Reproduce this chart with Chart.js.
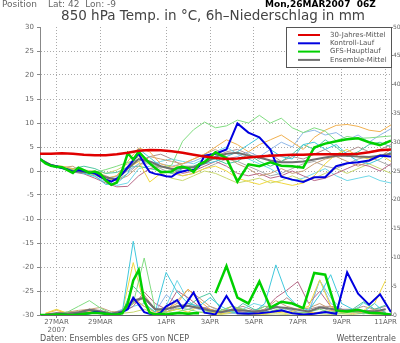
<!DOCTYPE html>
<html>
<head>
<meta charset="utf-8">
<script src="https://cdn.jsdelivr.net/npm/chart.js@4.4.1/dist/chart.umd.min.js"></script>
<style>
body { margin: 0; background: #fff; }
#box { position: relative; width: 400px; height: 343px; }
</style>
</head>
<body>
<div id="box"><canvas id="chart"></canvas></div>
<script>
// hours since 26MAR2007 06Z
var hours12 = [0,12,24,36,48,60,72,84,96,108,120,132,144,156,168,180,192,204,216,228,240,252,264,276,288,300,312,324,336,348,360,372,384];
var hoursHi = [0,6,12,18,24,30,36,42,48,54,60,66,72,78,84,90,96,102,108,114,120,126,132,138,144,150,156,162,168,174,180,
               192,204,216,228,240,252,264,276,288,300,312,324,336,348,360,372,384];
var hoursP = [6,18,30,42,54,66,78,90,102,114,126,138,150,162,174,186,198,210,222,234,246,258,270,282,294,306,318,330,342,354,366,378];

var tickHours = [18, 66, 138, 186, 234, 282, 330, 378];
var tickLabels = [['27MAR', '2007'], '29MAR', '1APR', '3APR', '5APR', '7APR', '9APR', '11APR'];

// 850 hPa temperature (deg C)
var climTemp = [3.6,3.6,3.7,3.6,3.4,3.3,3.3,3.5,3.8,4.2,4.4,4.3,4.1,3.8,3.4,3.0,2.7,2.5,2.6,2.8,3.0,3.2,3.3,3.4,3.4,3.5,3.5,3.5,3.5,3.6,3.9,4.3,4.5];
var meanTemp = [2.5,1.2,0.7,0.0,-0.2,-0.4,-1.3,-1.8,0.5,2.5,2.0,1.0,0.4,0.6,0.8,1.6,3.0,3.6,3.8,3.2,2.8,2.2,1.8,1.8,2.0,2.4,2.8,3.2,3.2,3.0,2.9,3.2,3.6];
var gfsTemp = [2.5,1.6,1.1,0.9,0.8,0.2,-0.4,0.7,0.2,-0.4,-0.1,-0.6,-2.0,-2.9,-2.4,0.2,3.7,2.4,4.0,2.8,1.6,0.6,-0.2,-0.2,-0.1,0.7,0.9,0.6,-0.2,1.4,1.9,
               3.9,2.7,-2.2,1.4,1.0,1.8,1.1,1.0,0.7,4.9,5.7,6.2,6.6,6.8,6.0,5.4,6.3];
var ctrlTemp = [2.5,1.7,1.2,1.0,0.6,0.3,-0.2,0.2,0.0,-0.3,-0.5,-1.2,-1.8,-2.2,-1.6,-0.6,0.8,2.2,3.6,1.5,-0.2,-0.6,-0.8,-1.1,-1.2,-0.4,-0.1,0.2,0.2,1.0,3.2,
                3.6,4.5,9.9,8.0,7.0,4.5,-1.2,-1.8,-2.3,-1.3,-1.3,1.0,1.6,1.8,2.2,3.2,3.0];

var memTemp = [
  [2.5,1.3,0.9,0.2,0.0,-0.3,0.3,1.0,1.8,2.4,1.6,0.8,1.2,6.2,8.6,10.2,9.0,9.4,10.6,10.0,11.6,10.0,11.0,9.0,8.0,9.0,8.3,6.3,7.2,6.8,6.9,7.1,7.3],
  [2.5,1.0,0.6,0.0,-0.5,-1.0,-2.8,-2.6,-0.5,4.6,2.8,1.0,0.5,0.0,0.4,1.5,2.0,3.0,4.0,5.5,7.0,4.5,3.0,2.5,5.5,6.0,4.5,5.5,3.5,2.0,1.5,2.5,4.0],
  [2.5,1.4,0.8,0.3,-0.3,-0.8,-2.0,-1.5,0.5,2.0,-2.3,-0.5,0.0,-1.0,-0.5,0.5,1.0,0.0,-1.5,-2.2,-2.8,-2.0,-2.5,-3.0,-2.5,-1.0,1.5,3.5,4.5,3.0,2.5,3.5,2.0],
  [2.5,1.2,1.0,0.5,0.0,-0.5,-1.5,-1.0,2.0,4.8,4.0,1.5,0.8,1.5,2.5,3.5,5.0,6.5,5.5,4.0,5.5,6.5,7.5,6.0,4.5,7.0,8.5,9.5,9.7,9.3,8.5,8.2,9.6],
  [2.5,1.1,0.7,1.0,-0.5,-0.2,-1.0,-2.0,-1.0,1.0,3.0,2.5,2.0,1.5,2.5,3.5,4.5,3.0,1.5,0.5,-1.0,-0.5,0.5,-0.5,0.0,1.5,2.5,3.0,2.0,1.0,2.0,3.0,4.5],
  [2.5,1.3,0.6,-0.2,-0.6,-1.5,-2.5,-3.3,-3.2,-1.0,0.5,1.0,0.5,-0.5,0.0,1.0,2.0,1.0,-0.5,-1.0,-0.5,-1.5,-1.0,0.0,-1.0,-2.0,-1.5,-0.5,0.5,1.5,1.0,0.0,1.5],
  [2.5,1.2,0.8,0.3,0.0,-0.6,-1.5,-1.2,0.0,1.5,2.0,1.5,1.0,1.5,2.0,3.0,3.5,2.5,3.0,4.0,3.0,4.5,6.0,5.0,8.0,8.5,7.5,8.0,6.5,7.5,6.0,7.5,8.8],
  [2.5,1.0,0.5,0.5,1.0,0.5,-0.5,-0.3,0.8,1.0,0.5,0.0,-0.5,0.5,1.0,2.0,2.5,1.5,2.0,3.5,2.0,1.0,2.0,3.5,5.5,4.5,6.5,5.0,3.0,4.0,5.5,6.0,5.0],
  [2.5,1.2,0.8,0.0,-0.3,-0.5,-1.2,-2.0,-0.5,1.5,1.5,0.5,-0.5,-1.0,-0.5,0.5,1.5,2.5,2.0,1.0,0.0,-1.0,-0.5,0.5,1.5,2.0,1.0,0.5,1.5,2.5,3.0,2.0,1.0],
  [2.5,1.3,0.9,0.4,0.2,0.0,-0.5,0.2,1.5,3.0,2.0,-0.5,-1.5,-2.0,-1.0,0.0,-0.5,-1.5,-2.5,-2.0,-1.5,-2.5,-2.0,-1.0,-2.0,-1.5,-0.5,0.5,-0.5,0.5,1.5,0.5,-0.5],
  [2.5,1.1,0.7,0.1,-0.4,-1.2,-2.2,-3.0,-2.5,0.5,1.0,2.0,2.5,2.0,1.5,2.5,4.0,5.0,3.5,2.5,1.5,0.5,-1.0,-2.0,-1.5,-0.5,0.5,-1.0,-2.0,-1.5,-1.0,-2.0,-2.5],
  [2.5,1.0,0.6,0.2,-0.2,-0.8,-1.8,-1.0,1.0,2.0,3.0,3.5,2.5,1.0,1.0,2.0,3.0,4.0,4.5,3.5,2.5,3.5,2.0,3.0,2.5,3.5,4.5,3.0,4.0,5.0,4.0,4.5,5.5]
];

// 6h precipitation (mm)
var gfsPrec = [0,0,0,0.1,0.1,0,0,0.1,0.2,0.3,0.4,0.3,0.2,0.1,0.1,0.3,2.0,6.0,7.8,2.5,0.4,0.1,0.2,0.1,0.2,0.3,0.3,0.2,0.3,0.3,null,
               3.8,8.5,3.0,2.0,5.8,1.3,2.3,2.0,1.2,7.3,7.0,0.8,0.6,0.9,0.4,0.3,0.1];
var ctrlPrec = [0,0,0,0,0.1,0,0,0.1,0.2,0.3,0.5,0.4,0.2,0.1,0.1,0.5,1.0,3.0,1.8,0.5,0.2,0.1,0.4,1.5,2.0,2.6,1.2,2.5,3.9,2.0,0.4,
                0.1,3.3,0.3,0.2,0.3,0.5,0.8,0.3,0.1,0.2,0.5,0.2,7.4,3.7,1.8,3.6,0.5];
var meanPrec = [0.1,0.3,0.2,0.4,0.9,0.6,0.2,0.6,2.5,3.0,1.0,1.0,1.5,1.6,1.2,0.8,0.5,0.9,0.8,0.6,0.8,1.4,1.2,0.9,0.6,1.3,1.1,0.7,0.8,0.7,0.6,1.0];

var memPrec = [
  [0,0.1,0.5,1.5,2.5,1.2,0.3,0.5,2.0,9.9,1.0,0.3,0.5,1.0,0.5,0.5,0.8,1.5,1.0,0.5,1.5,1.0,0.5,0.3,0.5,1.0,0.5,0.3,0.5,0.2,0.5,0.2],
  [0,0,0,0,0.2,0.5,0.3,0.5,12.8,2.0,0.5,7.4,4.0,2.0,1.5,3.0,1.5,0.5,0.3,0.5,2.0,8.7,3.5,1.5,0.8,3.5,7.0,2.0,1.0,0.5,2.0,0.3],
  [0.3,1.0,0.3,0.1,0.3,0.5,0.2,0.5,9.1,2.0,0.3,0.5,1.0,0.5,1.5,0.5,0.2,0.5,0.3,0.1,0.2,0.5,0.3,1.0,1.5,6.1,1.5,0.3,0.5,0.8,2.0,6.0],
  [0.3,0.8,0.3,0.2,0.6,0.4,0.1,0.5,3.0,1.5,0.5,1.0,2.0,4.5,2.5,1.0,0.5,1.5,0.8,0.5,0.3,0.8,0.5,0.3,0.5,0.3,0.8,0.5,0.3,0.5,0.3,1.0],
  [0.1,0.3,0.5,0.8,1.0,1.3,0.6,0.5,2.0,3.5,1.0,0.8,2.5,4.4,3.0,1.5,0.8,1.5,1.0,0.5,1.0,2.5,1.5,1.0,1.2,2.0,1.0,0.5,0.8,0.5,1.0,0.5],
  [0,0.2,0.3,0.5,1.0,0.6,0.2,0.5,1.5,4.0,2.0,1.0,4.2,3.0,1.5,1.0,0.5,0.8,0.5,0.3,1.0,3.0,4.3,5.8,2.0,4.1,1.5,1.0,0.5,0.3,0.8,0.3],
  [0,0.1,0.2,0.3,0.8,0.5,0.2,1.0,2.5,1.5,0.5,3.5,2.0,1.5,1.0,1.5,0.5,0.3,0.2,0.5,1.0,1.5,0.5,0.3,0.5,6.1,2.0,1.0,0.5,0.3,0.5,0.2],
  [0,0.2,0.3,0.5,0.8,0.5,0.3,0.5,5.0,3.0,1.0,0.5,1.0,1.5,3.0,3.8,1.0,0.5,2.0,1.0,0.5,0.8,0.5,0.3,0.5,0.3,0.5,0.8,1.0,2.3,1.0,1.7],
  [0.1,0.3,0.2,0.5,0.8,0.5,0.2,0.8,2.5,2.8,0.8,0.5,1.2,1.0,1.5,0.5,0.3,0.5,0.2,0.3,0.8,1.5,1.0,0.5,0.3,0.5,1.2,0.8,0.5,0.3,0.5,1.0],
  [0,0.2,0.1,0.3,0.5,0.3,0.1,0.3,0.5,1.0,0.3,0.1,0.5,0.3,0.5,0.2,0.1,0.3,0.1,0,0.1,0.2,0.1,0.3,0.5,0.2,0.1,0.2,0.1,0.3,0.1,0.2],
  [0,0,0.1,0.3,0.5,0.3,0.1,0.5,1.5,2.0,0.5,1.5,6.0,2.5,1.0,0.5,0.3,0.5,1.0,2.0,1.5,0.5,1.0,0.5,0.5,6.0,3.0,1.0,0.5,2.1,1.0,0.5],
  [0.1,0.3,0.5,0.6,1.0,0.8,0.3,0.8,2.0,3.0,1.0,0.5,1.5,2.0,1.5,0.8,0.5,1.0,1.5,0.8,1.5,1.5,3.0,1.5,1.0,1.5,1.5,1.0,1.0,1.5,1.0,1.5]
];
var memColors = ['#80dc80', '#40c8dc', '#f0d840', '#f0b050', '#c8a078', '#b86a88',
                 '#90b8e8', '#50c8a0', '#a8a8a8', '#c8d870', '#70d8e8', '#b09090'];

var mainLines = [
  { label: '30-Jahres-Mittel', color: '#e00000' },
  { label: 'Kontroll-Lauf', color: '#0000e0' },
  { label: 'GFS-Hauptlauf', color: '#00d000' },
  { label: 'Ensemble-Mittel', color: '#707070' }
];

function pts(hours, vals) {
    return hours.map((h, i) => ({ x: h, y: vals[i] }));
}

function line(data, color, width, axis, order) {
    return {
        data: data, borderColor: color, borderWidth: width, yAxisID: axis, order: order,
        pointRadius: 0, tension: 0, fill: false, spanGaps: false
    };
}

var datasets = [];
datasets.push(line(pts(hours12, climTemp), mainLines[0].color, 2.5, 'yT', 0));
datasets.push(line(pts(hoursHi, gfsTemp), mainLines[2].color, 2.5, 'yT', 1));
datasets.push(line(pts(hoursHi, ctrlTemp), mainLines[1].color, 2, 'yT', 2));
datasets.push(line(pts(hours12, meanTemp), mainLines[3].color, 2, 'yT', 3));
datasets.push(line(pts(hoursHi, gfsPrec), mainLines[2].color, 2.5, 'yP', 1));
datasets.push(line(pts(hoursHi, ctrlPrec), mainLines[1].color, 2, 'yP', 2));
datasets.push(line(pts(hoursP, meanPrec), mainLines[3].color, 2, 'yP', 3));
for (let m = 0; m < memTemp.length; m++) {
    datasets.push(line(pts(hours12, memTemp[m]), memColors[m], 1, 'yT', 10 + m));
    datasets.push(line(pts(hoursP, memPrec[m]), memColors[m], 1, 'yP', 10 + m));
}

const FONT = '"DejaVu Sans", sans-serif';

const legendBox = {
    id: 'legendBox',
    afterDatasetsDraw(chart) {
        const ctx = chart.ctx;
        const a = chart.chartArea;
        const left = 286, bottom = a.top + 40;
        ctx.save();
        ctx.fillStyle = '#fff';
        ctx.fillRect(left, a.top, a.right - left, bottom - a.top);
        ctx.strokeStyle = '#555';
        ctx.lineWidth = 1;
        ctx.strokeRect(left + 0.5, a.top + 0.5, a.right - left, bottom - a.top);
        ctx.font = '7px ' + FONT;
        ctx.textBaseline = 'middle';
        ctx.textAlign = 'left';
        mainLines.forEach((it, i) => {
            const y = a.top + 8 + i * 8.3;
            ctx.strokeStyle = it.color;
            ctx.lineWidth = 2;
            ctx.beginPath();
            ctx.moveTo(298, y);
            ctx.lineTo(320, y);
            ctx.stroke();
            ctx.fillStyle = '#555';
            ctx.fillText(it.label, 330, y);
        });
        ctx.restore();
    }
};

const texts = {
    id: 'texts',
    afterDraw(chart) {
        const ctx = chart.ctx;
        ctx.save();
        ctx.textBaseline = 'middle';
        ctx.textAlign = 'left';
        ctx.fillStyle = '#666';
        ctx.font = '9px ' + FONT;
        ctx.fillText('Position', 2, 5);
        ctx.fillText('Lat: 42  Lon: -9', 48, 5);
        ctx.fillStyle = '#000';
        ctx.font = 'bold 9px ' + FONT;
        ctx.fillText('Mon,26MAR2007  06Z', 265, 5);
        ctx.fillStyle = '#444';
        ctx.font = '13.5px ' + FONT;
        ctx.textAlign = 'center';
        ctx.fillText('850 hPa Temp. in \u00B0C, 6h\u2013Niederschlag in mm', 213, 16);
        ctx.fillStyle = '#555';
        ctx.font = '8px ' + FONT;
        ctx.textAlign = 'left';
        ctx.fillText('Daten: Ensembles des GFS von NCEP', 40, 339);
        ctx.textAlign = 'right';
        ctx.fillText('Wetterzentrale', 396, 339);
        ctx.restore();
    }
};

const tickFont = { family: FONT, size: 7 };

new Chart(document.getElementById('chart'), {
    type: 'line',
    data: { datasets: datasets },
    options: {
        responsive: true,
        maintainAspectRatio: false,
        animation: false,
        events: [],
        layout: { padding: { top: 27, left: 0, right: 0, bottom: 0 } },
        plugins: { legend: { display: false }, tooltip: { enabled: false }, title: { display: false } },
        scales: {
            x: {
                type: 'linear', min: 0, max: 384,
                afterBuildTicks: (s) => { s.ticks = tickHours.map(v => ({ value: v })); },
                afterFit: (s) => { s.height = 28; },
                ticks: {
                    autoSkip: false, maxRotation: 0, padding: 0, color: '#666', font: tickFont,
                    callback: (v, i) => tickLabels[i]
                },
                grid: { color: '#aaa', lineWidth: 1, tickLength: 3, tickColor: '#888', tickBorderDash: [] },
                border: { display: true, color: '#666', width: 1, dash: [1, 2] }
            },
            yT: {
                position: 'left', min: -30, max: 30,
                afterFit: (s) => { s.width = 40; },
                ticks: { stepSize: 5, padding: 3, color: '#666', font: tickFont },
                grid: {
                    color: (c) => (Math.abs(c.tick.value) === 30 ? 'rgba(0,0,0,0)' : '#aaa'),
                    tickColor: '#888', tickLength: 3, tickBorderDash: []
                },
                border: { display: true, color: '#888', width: 1, dash: [1, 2] }
            },
            yP: {
                position: 'right', min: 0, max: 50,
                afterFit: (s) => { s.width = 9; },
                ticks: { stepSize: 5, padding: 0, color: '#666', font: { family: FONT, size: 6 } },
                grid: { drawOnChartArea: false, tickColor: '#888', tickLength: 2 },
                border: { display: true, color: '#888', width: 1 }
            }
        }
    },
    plugins: [legendBox, texts]
});
</script>
</body>
</html>
